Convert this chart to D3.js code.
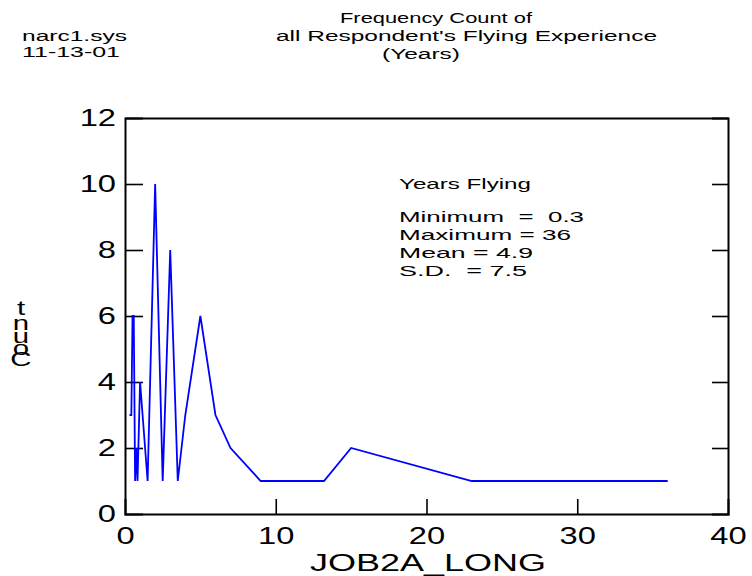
<!DOCTYPE html>
<html><head><meta charset="utf-8">
<script src="https://cdn.jsdelivr.net/npm/d3@7"></script>
<style>
html,body{margin:0;padding:0;background:#fff;}
svg text{font-family:Arial,"Liberation Sans",Helvetica,sans-serif;fill:#000;white-space:pre;}
</style></head>
<body><svg id="c" width="752" height="576"></svg>
<script>
// ---- data ----
const years  = [0.3, 0.42, 0.5, 0.58, 0.67, 0.75, 0.83, 1, 1.5, 2, 2.5, 3, 3.5, 4, 5, 6, 7, 9, 13.2, 15, 23, 36];
const counts = [3,   3,    6,   6,    1,    2,    1,    4, 1,   10, 1,  8, 1,   3, 6, 3, 2, 1, 1,    2,  1,  1];
const xTicks = [0, 10, 20, 30, 40];
const yTicks = [0, 2, 4, 6, 8, 10, 12];
const titleLines = ["Frequency Count of", "all Respondent's Flying Experience", "(Years)"];
const headerLines = ["narc1.sys", "11-13-01"];
const statsLines = ["Years Flying", "", "Minimum  =  0.3", "Maximum = 36", "Mean = 4.9", "S.D.  = 7.5"];
const xLabel = "JOB2A_LONG";
const yLabel = "Count";

// ---- layout ----
const svg = d3.select("#c");
const L = 125, R = 728, T = 118, B = 514;
const x = d3.scaleLinear().domain([0, 40]).range([L, R]);
const y = d3.scaleLinear().domain([0, 12]).range([B, T]);
const SX = 1.42; // horizontal text stretch

function stretchedText(g, str, tx, ty, size, anchor, width) {
  const t = g.append("text")
    .attr("x", tx).attr("y", ty)
    .attr("font-size", size)
    .attr("text-anchor", anchor || "start")
    .attr("xml:space", "preserve")
    .text(str);
  if (width) t.attr("textLength", width).attr("lengthAdjust", "spacingAndGlyphs");
  return t;
}

// header
stretchedText(svg, headerLines[0], 22, 41, 14, "start", 105);
stretchedText(svg, headerLines[1], 22, 57, 14, "start", 98);
// title
const titleW = [192, 381, 78];
const titleX = [340, 276, 382];
titleLines.forEach((s, i) => stretchedText(svg, s, titleX[i], 23 + i * 18, 14, "start", titleW[i]));

// axes
const fmt = d3.format("d");
const gL = svg.append("g").attr("transform", `translate(${L},0)`)
  .call(d3.axisLeft(y).tickValues(yTicks).tickSize(-18).tickPadding(9).tickFormat(fmt));
const gR = svg.append("g").attr("transform", `translate(${R},0)`)
  .call(d3.axisRight(y).tickValues(yTicks).tickSize(-16).tickFormat(""));
const gB = svg.append("g").attr("transform", `translate(0,${B})`)
  .call(d3.axisBottom(x).tickValues(xTicks).tickSize(-15).tickPadding(12).tickFormat(fmt));
const gT = svg.append("g").attr("transform", `translate(0,${T})`)
  .call(d3.axisTop(x).tickValues(xTicks).tickSize(0).tickFormat(""));

[gL, gR, gB, gT].forEach(g => {
  g.select(".domain").attr("stroke", "#000").attr("stroke-width", 2);
  g.selectAll(".tick line").attr("stroke", "#000").attr("stroke-width", 1.6);
  g.selectAll("text").attr("font-size", 23).attr("font-family", "Arial, 'Liberation Sans', sans-serif").attr("fill", "#000");
});
gL.selectAll(".tick text").attr("x", null).attr("text-anchor", "end")
  .attr("transform", `translate(-9,0) scale(${SX},1)`);
gB.selectAll(".tick text").attr("dy", null).attr("y", 30)
  .attr("transform", `scale(${SX},1)`);
// hide end ticks overlapping frame
gL.selectAll(".tick line").filter(d => d === 0 || d === 12).remove();
gR.selectAll(".tick line").filter(d => d === 0 || d === 12).remove();
gB.selectAll(".tick line").filter(d => d === 0 || d === 40).remove();

// data line
const pts = years.map((v, i) => [v, counts[i]]);
svg.append("path")
  .datum(pts)
  .attr("fill", "none")
  .attr("stroke", "#0000ff")
  .attr("stroke-width", 1.8)
  .attr("stroke-linejoin", "miter")
  .attr("d", d3.line().x(d => x(d[0])).y(d => y(d[1])));

// stats box
const statW = [132, 0, 185, 172, 134, 128];
const statY = [189, 0, 222, 240, 258, 276];
statsLines.forEach((s, i) => { if (s) stretchedText(svg, s, 399, statY[i], 15, "start", statW[i]); });

// x label
stretchedText(svg, xLabel, 310, 571, 23, "start", 236);

// y label: stacked upright letters, bottom-to-top (overlapping as in the source)
const yLetterBase = [366, 355, 343, 330, 315];
yLabel.split("").forEach((ch, i) => {
  svg.append("text").attr("x", 21).attr("y", yLetterBase[i])
    .attr("font-size", 21).attr("text-anchor", "middle")
    .attr("transform", `translate(21,0) scale(1.4,1) translate(-21,0)`)
    .text(ch);
});
</script></body></html>
